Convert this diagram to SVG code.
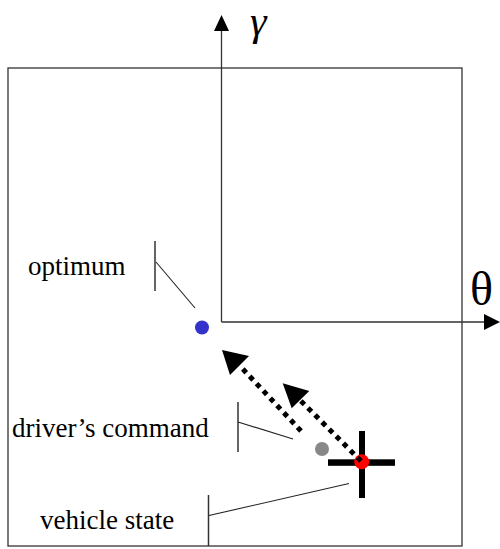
<svg xmlns="http://www.w3.org/2000/svg" width="500" height="549" viewBox="0 0 500 549">
<style>
.frame{fill:none;stroke:#333;stroke-width:1.3}
.axis{fill:none;stroke:#333;stroke-width:1.3}
.lead{fill:none;stroke:#222;stroke-width:1.1}
.tick{fill:none;stroke:#333;stroke-width:1.5}
.lbl{font-family:"Liberation Serif","Times New Roman",serif;font-size:27px;fill:#000}
.dotted{fill:none;stroke:#000;stroke-width:5;stroke-dasharray:5 5}
.head{fill:#000}
</style>
<rect width="500" height="549" fill="#fff"/>
<rect class="frame" x="8" y="68" width="454" height="478"/>
<g id="axes">
<path class="axis" d="M221.5,322 V30 M221.5,322 H485"/>
<polygon class="head" points="221.5,15 214,31 229,31"/>
<polygon class="head" points="500,322 484,314 484,330"/>
<text x="250" y="35" font-family="Liberation Serif,serif" font-style="italic" font-size="42">γ</text>
<text x="470" y="305" font-family="Liberation Serif,serif" font-size="48">θ</text>
</g>
<g id="optimum">
<text class="lbl" x="28" y="275">optimum</text>
<line class="tick" x1="155" y1="241" x2="155" y2="291"/>
<line class="lead" x1="156" y1="262" x2="195" y2="308"/>
<circle cx="202" cy="327.5" r="7" fill="#3333cc"/>
</g>
<g id="drivers-command">
<text class="lbl" x="12" y="437">driver’s command</text>
<line class="tick" x1="238" y1="402" x2="238" y2="452"/>
<line class="lead" x1="238" y1="422" x2="293" y2="439"/>
<circle cx="322" cy="449" r="7" fill="#888"/>
</g>
<g id="vehicle-state">
<text class="lbl" x="40" y="529">vehicle state</text>
<line class="tick" x1="208.5" y1="495" x2="208.5" y2="546"/>
<line class="lead" x1="209" y1="515.5" x2="349" y2="483.5"/>
<rect x="328" y="459.3" width="67" height="6.5" fill="#000"/>
<rect x="359" y="431" width="6" height="67" fill="#000"/>
<circle cx="361.7" cy="461.8" r="7.5" fill="#f00"/>
</g>
<g id="connectors">
<line class="dotted" x1="301" y1="431" x2="240" y2="366"/>
<polygon class="head" points="222,350 230,375 249,356"/>
<line class="dotted" x1="361" y1="461" x2="300" y2="400"/>
<polygon class="head" points="282.7,383.3 291.7,408.3 309.3,391"/>
</g>
</svg>
